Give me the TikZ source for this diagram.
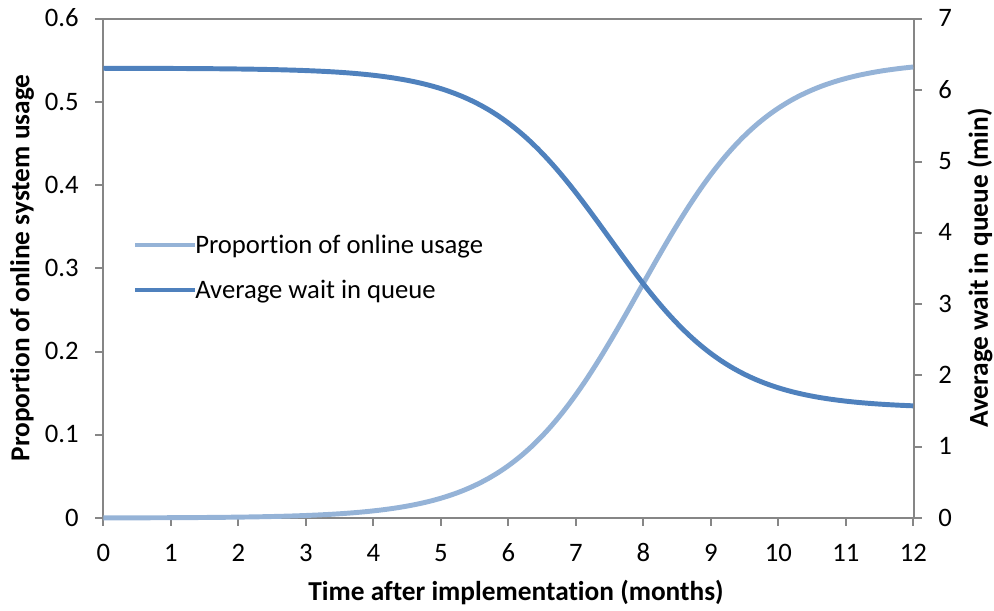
\documentclass[tikz,border=0pt]{standalone}
\usepackage{fontspec}
\setmainfont{Carlito}[Ligatures=NoCommon]
\definecolor{axisgray}{HTML}{868686}
\definecolor{usageblue}{HTML}{95B3D7}
\definecolor{waitblue}{HTML}{4F81BD}
\begin{document}
\begin{tikzpicture}[x=0.75pt,y=-0.75pt,
  axisline/.style={draw=axisgray, line width=1.5pt},
  ticklabel/.style={font=\fontsize{20}{24}\selectfont, inner sep=0pt},
  axistitle/.style={font=\fontsize{20.5}{24}\selectfont\bfseries, inner sep=0pt},
  legendtext/.style={font=\fontsize{20}{24}\selectfont, inner sep=0pt, anchor=base west},
  usagecurve/.style={draw=usageblue, line width=3.7pt},
  waitcurve/.style={draw=waitblue, line width=3.7pt}]
\useasboundingbox (0,0) rectangle (994,610);

% plot frame
\coordinate (frameSW) at (103.3,518);
\coordinate (frameNE) at (913.5,19);
\draw[axisline] (frameSW) rectangle (frameNE);

% left axis: proportion 0 .. 0.6
\foreach \k/\lab in {0/0,1/0.1,2/0.2,3/0.3,4/0.4,5/0.5,6/0.6} {
  \draw[axisline] (95,{518-83.17*\k}) -- (103.3,{518-83.17*\k});
  \node[ticklabel, anchor=base east] (yl\k) at (79,{518-83.17*\k+8}) {\lab};
}
% right axis: wait 0 .. 7 min
\foreach \k in {0,...,7} {
  \draw[axisline] (913.5,{518-71.286*\k}) -- (921.5,{518-71.286*\k});
  \node[ticklabel, anchor=base west] (yr\k) at (938,{518-71.286*\k+8}) {\k};
}
% bottom axis: months 0 .. 12
\foreach \k in {0,...,12} {
  \draw[axisline] ({103.3+67.5*\k},518) -- ({103.3+67.5*\k},526);
  \node[ticklabel, anchor=base] (xl\k) at ({103.3+67.5*\k},561) {\k};
}

% axis titles
\node[axistitle, rotate=90] (ytitleL) at (22,268) {Proportion of online system usage};
\node[axistitle, rotate=90] (ytitleR) at (980,268) {Average wait in queue (min)};
\node[axistitle] (xtitle) at (516,592) {Time after implementation (months)};

% series
\draw[usagecurve] plot[domain=0:12, samples=121, smooth]
  ({103.3+67.5*\x}, {518-831.67*0.55/(1+exp(-1.05*(\x-7.95)))});
\draw[waitcurve] plot[domain=0:12, samples=121, smooth]
  ({103.3+67.5*\x}, {518-71.286*(1.54+4.77/(1+exp(1.1*(\x-7.5))))});

% legend
\node[legendtext] (leg1) at (195,253.5) {Proportion of online usage};
\node[legendtext] (leg2) at (195,298.5) {Average wait in queue};
\coordinate (leg1s) at (135,245);
\coordinate (leg2s) at (135,290);
\draw[usagecurve] (leg1s) -- (leg1s -| leg1.west);
\draw[waitcurve] (leg2s) -- (leg2s -| leg2.west);
\end{tikzpicture}
\end{document}
